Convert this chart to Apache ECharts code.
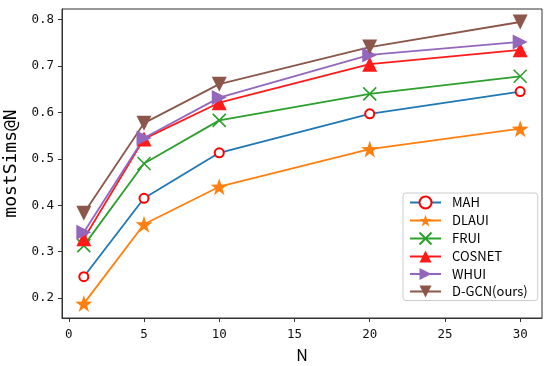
<!DOCTYPE html>
<html><head><meta charset="utf-8">
<script src="https://cdn.jsdelivr.net/npm/echarts@6/dist/echarts.min.js"></script>
<style>html,body{margin:0;padding:0;background:#fff}#c{width:550px;height:366px}</style>
</head><body><div id="c"></div>
<script>
const N = [1, 5, 10, 20, 30];
const MAH   = [0.246, 0.415, 0.513, 0.597, 0.645];
const DLAUI = [0.188, 0.359, 0.440, 0.521, 0.565];
const FRUI  = [0.313, 0.490, 0.583, 0.640, 0.678];
const COSNET= [0.328, 0.543, 0.621, 0.704, 0.735];
const WHUI  = [0.342, 0.545, 0.632, 0.724, 0.752];
const DGCN  = [0.383, 0.577, 0.661, 0.741, 0.795];
const xTicks = [0, 5, 10, 15, 20, 25, 30];
const yTicks = [0.2, 0.3, 0.4, 0.5, 0.6, 0.7, 0.8];

const MONO = '"DejaVu Sans Mono", "Liberation Mono", monospace';
const FONT = '"Noto Sans CJK SC", "DejaVu Sans", sans-serif';
const STAR = 'path://M50,0 L61.8,35.5 L100,36.5 L69.1,58.8 L80.9,95.1 L50,72.6 L19.1,95.1 L30.9,58.8 L0,36.5 L38.2,35.5 Z';
const XMARK = 'path://M0,0 L100,100 M100,0 L0,100';

function pairs(v){ return N.map((n,i)=>[n, v[i]]); }
function ser(name, vals, lineColor, opts){
  return Object.assign({
    name, type:'line', data: pairs(vals), z: 2,
    lineStyle:{color: lineColor, width: 1.8},
    itemStyle:{color: lineColor},
    emphasis:{disabled:true}
  }, opts);
}

const chart = echarts.init(document.getElementById('c'), null, {renderer:'canvas'});
chart.setOption({
  animation:false,
  backgroundColor:'#fff',
  grid:{left:62, right:8, top:9, bottom:48, outerBoundsMode:'none', containLabel:false,
    show:true, borderColor:'#333', borderWidth:1, backgroundColor:'transparent'},
  xAxis:{type:'value', min:-0.45, max:31.45, name:'N', nameLocation:'middle', nameGap:29,
    nameTextStyle:{fontFamily:FONT, fontSize:16, color:'#000'},
    axisLine:{show:true, onZero:false, lineStyle:{color:'#333'}},
    axisTick:{show:true, length:4, customValues:xTicks, lineStyle:{color:'#333'}},
    axisLabel:{customValues:xTicks, margin:10, fontFamily:MONO, fontSize:12.5, color:'#111'},
    splitLine:{show:false}},
  yAxis:{type:'value', min:0.157, max:0.823, name:'mostSims@N', nameLocation:'middle', nameGap:37,
    nameTextStyle:{fontFamily:MONO, fontSize:18, color:'#000'},
    axisLine:{show:true, onZero:false, lineStyle:{color:'#333'}},
    axisTick:{show:true, length:4, customValues:yTicks, lineStyle:{color:'#333'}},
    axisLabel:{customValues:yTicks, margin:8, fontFamily:MONO, fontSize:12.5, color:'#111', formatter:v=>v.toFixed(1)},
    splitLine:{show:false}},
  legend:{orient:'vertical', left:403, top:193, width:120,
    padding:[2.5,10,2.5,6], itemGap:4.5, itemWidth:31, itemHeight:15,
    backgroundColor:'#fff', borderColor:'#ccc', borderWidth:1, borderRadius:3,
    textStyle:{fontFamily:FONT, fontSize:13, color:'#000', padding:[0,0,0,6]},
    data:['MAH','DLAUI','FRUI','COSNET','WHUI','D-GCN(ours)']},
  series:[
    ser('MAH', MAH, '#1f77b4', {symbol:'emptyCircle', symbolSize:9, itemStyle:{color:'#ff0000', borderWidth:1.5}}),
    ser('DLAUI', DLAUI, '#ff7f0e', {symbol:STAR, symbolSize:17}),
    ser('FRUI', FRUI, '#2ca02c', {symbol:XMARK, symbolSize:13, itemStyle:{color:'#2ca02c', borderColor:'#2ca02c', borderWidth:1.6}}),
    ser('COSNET', COSNET, '#ff1a1a', {symbol:'triangle', symbolSize:15}),
    ser('WHUI', WHUI, '#9467bd', {symbol:'triangle', symbolRotate:-90, symbolSize:15}),
    ser('D-GCN(ours)', DGCN, '#8c564b', {symbol:'triangle', symbolRotate:180, symbolSize:15})
  ]
});
</script></body></html>
